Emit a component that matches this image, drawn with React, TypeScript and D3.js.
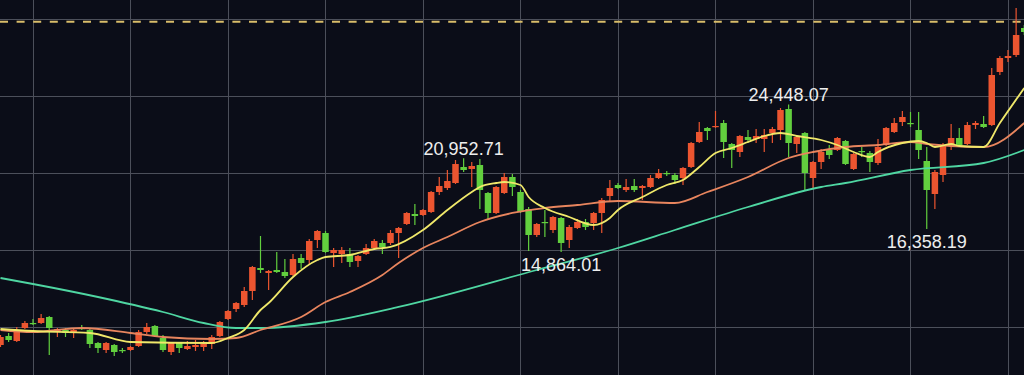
import React from 'react';
import * as d3 from 'd3';

// candles: [open, high, low, close], red = up, green = down
const ohlc: [number, number, number, number][] = [
  [8831, 9481, 8701, 9351], [9416, 9610, 9026, 9156], [9091, 10000, 9026, 9805], [9935, 10390, 9870, 10260],
  [10260, 10519, 10130, 10195], [10260, 10844, 10195, 10584], [10649, 10714, 8182, 9935], [9675, 9935, 9351, 9870],
  [9805, 9935, 9351, 9610], [9675, 9870, 9286, 9805], [9935, 10130, 9805, 9870], [9805, 9870, 8636, 8896],
  [8961, 9026, 8312, 8636], [8506, 9026, 8312, 8961], [8831, 8896, 8117, 8377], [8506, 8636, 8312, 8442],
  [8506, 8766, 8442, 8701], [8766, 9805, 8701, 9675], [9675, 10260, 9545, 10000], [10065, 10130, 9351, 9416],
  [9286, 9481, 8377, 8506], [8377, 9026, 8182, 8961], [8961, 9026, 8312, 8636], [8571, 9091, 8506, 8766],
  [8701, 9156, 8442, 8831], [8701, 9091, 8442, 8896], [8896, 9481, 8571, 9351], [9416, 10390, 9351, 10325],
  [10519, 11104, 10455, 11039], [11169, 11623, 10974, 11558], [11429, 12597, 11299, 12338], [12338, 13961, 11753, 13896],
  [13831, 15909, 13506, 13701], [13506, 13701, 12403, 13636], [13701, 14870, 13506, 13571], [13571, 14416, 13182, 13312],
  [13377, 14740, 13312, 14416], [14481, 14740, 13766, 14156], [14351, 15714, 14026, 15584], [15649, 16299, 15130, 16234],
  [16104, 16234, 14805, 14870], [14805, 15130, 13896, 15000], [14740, 15195, 14156, 15000], [14740, 15130, 13896, 14221],
  [14286, 14675, 13896, 14610], [14740, 15390, 14675, 15130], [15130, 15714, 15065, 15584], [15455, 15649, 14740, 15195],
  [15455, 16299, 15325, 16104], [16104, 16494, 14481, 16429], [16688, 17468, 16623, 17403], [17338, 17987, 16623, 17208],
  [17273, 17662, 17208, 17597], [17468, 18831, 17403, 18766], [18766, 19740, 18571, 19156], [19026, 20195, 18896, 19481],
  [19351, 20844, 19286, 20584], [20390, 20952.71, 20065, 20195], [20260, 20714, 19091, 20455], [20519, 20909, 17662, 18896],
  [18701, 18766, 16948, 17403], [17403, 19156, 17338, 19091], [18701, 20000, 18636, 19740], [19740, 19935, 18506, 19091],
  [18766, 18896, 17403, 17468], [17662, 17792, 14935, 15974], [15974, 16753, 15844, 16688], [16818, 17597, 15844, 16753],
  [16299, 17208, 16104, 17143], [17078, 17143, 14864.01, 15455], [15649, 16623, 15130, 16494], [16429, 17013, 16364, 16818],
  [16818, 17013, 16299, 16494], [16753, 17468, 16299, 17403], [17403, 18377, 16104, 18247], [18506, 19545, 18182, 19026],
  [19221, 19351, 18961, 19026], [18896, 19610, 18766, 19091], [19156, 19610, 18766, 18896], [19026, 19221, 18247, 19156],
  [19091, 19870, 19026, 19675], [19675, 20260, 19610, 20000], [20000, 20130, 19805, 19935], [19870, 20000, 19286, 19545],
  [19675, 20390, 19221, 20325], [20390, 22013, 20325, 21948], [22013, 23312, 21948, 22662], [22922, 22987, 22143, 22727],
  [22987, 24026, 22922, 23052], [23247, 23442, 20974, 22013], [21883, 21948, 20325, 21494], [21364, 22468, 21039, 22403],
  [22338, 22792, 21948, 22143], [22208, 22857, 21948, 22403], [22208, 22857, 21364, 22468], [22597, 22987, 21948, 22857],
  [22792, 24221, 22143, 24091], [24156, 24448.07, 21039, 21948], [21883, 22403, 21299, 22338], [22597, 22662, 18896, 20000],
  [19675, 20779, 19026, 20714], [20714, 21558, 20260, 21364], [21494, 21818, 20909, 21169], [21494, 22338, 21429, 22273],
  [22078, 22143, 20519, 20584], [20260, 21299, 20195, 21234], [21429, 21688, 21039, 21364], [21299, 21429, 20065, 20714],
  [20649, 22208, 20519, 21688], [21818, 22987, 21753, 22922], [22662, 23571, 22597, 23247], [23312, 24026, 23052, 23636],
  [23247, 23961, 22987, 23182], [22792, 23961, 20909, 21494], [20779, 21688, 16358.19, 18896], [18636, 20195, 17662, 20065],
  [19870, 21948, 19416, 21818], [21818, 23182, 21494, 22273], [22273, 22922, 21688, 21818], [21883, 23312, 21818, 23117],
  [23117, 23377, 22857, 23247], [23182, 23701, 22922, 22987], [23117, 26818, 23052, 26364], [26558, 27597, 26364, 27468],
  [27468, 27987, 27208, 27597], [27662, 30714, 27532, 28961], [29416, 29610, 28961, 29156],
];

// moving averages: [candle index, value]
const ma7: [number, number][] = [
  [0, 9870], [4, 9740], [11, 9610], [16, 9026], [26, 8961], [28, 9286], [30, 9805], [32, 11104],
  [33, 11558], [36, 13247], [39, 14351], [40, 14545], [43, 14675], [46, 15065], [48, 15195], [52, 16299],
  [55, 17597], [58, 18766], [59, 19091], [61, 19351], [62, 19416], [64, 19221], [65, 18442], [67, 17727],
  [70, 17143], [73, 16623], [75, 17078], [76, 17597], [79, 18442], [82, 19221], [84, 19545], [86, 20390],
  [88, 21299], [90, 21623], [92, 22013], [94, 22403], [96, 22597], [98, 22403], [101, 22143], [103, 21818],
  [105, 21364], [107, 21039], [108, 21364], [111, 21948], [113, 22078], [114, 21948], [115, 21688], [117, 21883],
  [118, 21753], [121, 21688], [123, 23247], [126, 25520],
];

const ma25: [number, number][] = [
  [0, 9805], [4, 9675], [10, 9935], [16, 9610], [20, 9351], [26, 9221], [29, 9286], [32, 9805],
  [37, 10649], [40, 11623], [43, 12273], [47, 13377], [49, 14156], [52, 15130], [55, 15844], [59, 16818],
  [63, 17403], [67, 17727], [71, 17922], [76, 18182], [83, 18052], [87, 18766], [92, 19740], [97, 20974],
  [100, 21364], [104, 21688], [108, 21818], [112, 22013], [114, 21883], [117, 21753], [121, 21688], [126, 23247],
];

const ma99: [number, number][] = [
  [0, 13182], [4, 12792], [12, 11948], [20, 10974], [25, 10260], [29, 9935], [32, 9935], [40, 10325],
  [49, 11299], [66, 13701], [76, 15130], [83, 16299], [92, 17792], [101, 19091], [104, 19351], [112, 20195],
  [121, 20649], [126, 21494],
];

const priceTicks = [10000, 15000, 20000, 25000, 30000];
const gridIndex = [4, 16, 28, 40, 52, 64, 76, 88, 100, 112, 124];
const lastPrice = 29825;
const highMarks = [{ index: 57, value: 20952.71 }, { index: 97, value: 24448.07 }];
const lowMarks = [{ index: 69, value: 14864.01 }, { index: 114, value: 16358.19 }];

const W = 1024;
const H = 375;
const UP = '#ec5530';
const DOWN = '#62cf3e';

export default function App() {
  const x = d3.scaleLinear().domain([0, 126]).range([0.5, 1024.25]);
  const y = d3.scaleLinear().domain([10000, 30000]).range([327, 19]);
  const bodyW = 6.5;

  const line = d3
    .line<[number, number]>()
    .x((d) => x(d[0]))
    .y((d) => y(d[1]))
    .curve(d3.curveMonotoneX);

  const fmt = d3.format(',.2f');
  const font = '"Liberation Sans", Arial, sans-serif';

  return (
    <svg
      width={W}
      height={H}
      style={{ position: 'fixed', left: 0, top: 0, display: 'block' }}
    >
      <rect width={W} height={H} fill="#0b0d18" />

      {/* grid */}
      {priceTicks.map((t) => (
        <line key={'h' + t} x1={0} x2={W} y1={Math.round(y(t)) + 0.5} y2={Math.round(y(t)) + 0.5}
          stroke="#4c4f5a" strokeWidth={1} />
      ))}
      {gridIndex.map((g) => (
        <line key={'v' + g} x1={Math.round(x(g)) + 0.5} x2={Math.round(x(g)) + 0.5} y1={0} y2={H}
          stroke="#4c4f5a" strokeWidth={1} />
      ))}

      {/* last price line */}
      <line x1={0} x2={W} y1={y(lastPrice)} y2={y(lastPrice)}
        stroke="#d9bd6a" strokeWidth={2} strokeDasharray="8 8.6" />

      {/* candles */}
      {ohlc.map(([o, h, l, c], i) => {
        const col = c >= o ? UP : DOWN;
        const cx = x(i);
        const top = y(Math.max(o, c));
        const bh = Math.max(1.2, y(Math.min(o, c)) - top);
        return (
          <g key={i}>
            <line x1={cx} x2={cx} y1={y(h)} y2={y(l)} stroke={col} strokeWidth={1.2} />
            <rect x={cx - bodyW / 2} y={top} width={bodyW} height={bh} fill={col} />
          </g>
        );
      })}

      {/* moving averages */}
      <path d={line(ma99) || ''} fill="none" stroke="#4fd6a2" strokeWidth={1.8} />
      <path d={line(ma25) || ''} fill="none" stroke="#e8855e" strokeWidth={1.8} />
      <path d={line(ma7) || ''} fill="none" stroke="#f0e86a" strokeWidth={1.8} />

      {/* high / low labels */}
      {highMarks.map((m) => (
        <text key={m.index} x={x(m.index)} y={y(m.value) - 3} textAnchor="middle"
          fontFamily={font} fontSize={18} fill="#eeeeee">
          {fmt(m.value)}
        </text>
      ))}
      {lowMarks.map((m) => (
        <text key={m.index} x={x(m.index)} y={y(m.value) + 19} textAnchor="middle"
          fontFamily={font} fontSize={18} fill="#eeeeee">
          {fmt(m.value)}
        </text>
      ))}
    </svg>
  );
}
